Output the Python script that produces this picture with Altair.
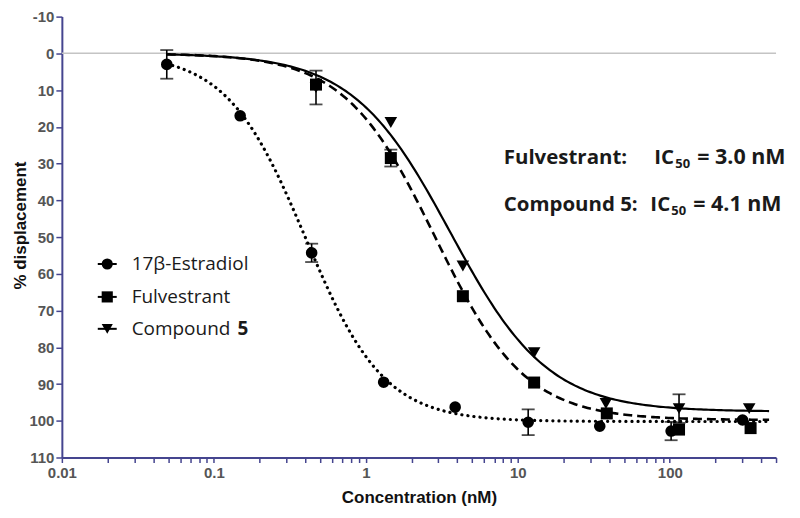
import numpy as np
import pandas as pd
import altair as alt

# ---------------- data ----------------
e_conc = [0.049, 0.149, 0.44, 1.31, 3.87, 11.7, 34.6, 102, 301]
e_resp = [3.0, 17.0, 54.3, 89.5, 96.3, 100.4, 101.5, 102.8, 99.8]
e_err = [3.9, 0, 2.5, 0, 0, 3.5, 0, 2.5, 0]

f_conc = [0.47, 1.46, 4.35, 12.8, 38.5, 115, 340]
f_resp = [8.5, 28.5, 66.1, 89.6, 98.0, 102.4, 102.0]
f_err = [0, 2.3, 0, 0, 0, 0, 0]

c_conc = [0.47, 1.46, 4.35, 12.8, 38, 115, 333]
c_resp = [9.3, 18.8, 57.9, 81.5, 95.3, 96.7, 96.7]
c_err = [4.6, 0, 0, 0, 0, 3.9, 0]

# fitted sigmoid parameters (top, bottom, IC50, Hill slope)
fit_top = [0.0, 0.0, 0.0]
fit_bottom = [100.2, 99.8, 97.5]
fit_ic50 = [0.40, 2.85, 3.6]
fit_hill = [1.68, 1.46, 1.35]
curve_range = [0.049, 450]

x_ticks = [0.01, 0.02, 0.03, 0.04, 0.05, 0.06, 0.07, 0.08, 0.09,
           0.1, 0.2, 0.3, 0.4, 0.5, 0.6, 0.7, 0.8, 0.9,
           1, 2, 3, 4, 5, 6, 7, 8, 9,
           10, 20, 30, 40, 50, 60, 70, 80, 90,
           100, 200, 300, 400, 500]
x_labels = [0.01, 0.1, 1, 10, 100]
y_ticks = [-10, 0, 10, 20, 30, 40, 50, 60, 70, 80, 90, 100, 110]
zero_line = [0]

AX = "#45458f"
W, H = 716, 442


def X(field="conc"):
    return alt.X(
        f"{field}:Q",
        scale=alt.Scale(type="log", domain=[0.01, 500], nice=False),
        axis=alt.Axis(
            title="Concentration (nM)",
            values=x_ticks,
            labelExpr="indexof([" + ",".join(str(v) for v in x_labels) + "], datum.value) >= 0 ? format(datum.value, '~g') : ''",
            labelOverlap=False,
            labelFlush=False,
            tickSize=5,
            labelPadding=3,
            titlePadding=9,
        ),
    )


def Y(field="resp"):
    return alt.Y(
        f"{field}:Q",
        scale=alt.Scale(domain=[-10, 110], reverse=True, nice=False, zero=False),
        axis=alt.Axis(
            title="% displacement",
            values=y_ticks,
            labelExpr="datum.value < 0 ? '-' + format(-datum.value, 'd') : format(datum.value, 'd')",
            tickSize=6,
            labelPadding=2,
            titleX=-41,
            titleY=209,
            titleBaseline="middle",
        ),
    )


def curve_df(i):
    xs = np.logspace(np.log10(curve_range[0]), np.log10(curve_range[1]), 240)
    ys = fit_top[i] + (fit_bottom[i] - fit_top[i]) / (1 + (fit_ic50[i] / xs) ** fit_hill[i])
    return pd.DataFrame({"conc": xs, "resp": ys})


def pts_df(conc, resp, err):
    df = pd.DataFrame({"conc": conc, "resp": resp, "err": err})
    df["lo"] = df["resp"] - df["err"]
    df["hi"] = df["resp"] + df["err"]
    return df


layers = []

# zero reference line
layers.append(
    alt.Chart(pd.DataFrame({"v": zero_line}))
    .mark_rule(color="#c4c4c4", strokeWidth=1.5)
    .encode(y=Y("v"))
)

# curves
dashes = [[0.1, 6], [9, 5], None]
widths = [3.2, 2.6, 2.2]
for i in range(3):
    kw = dict(color="black", strokeWidth=widths[i], strokeCap="round" if i == 0 else "butt")
    if dashes[i] is not None:
        kw["strokeDash"] = dashes[i]
    layers.append(alt.Chart(curve_df(i)).mark_line(**kw).encode(x=X(), y=Y()))

# points + error bars
series = [
    (e_conc, e_resp, e_err, "circle", 135),
    (f_conc, f_resp, f_err, "square", 145),
    (c_conc, c_resp, c_err, "triangle-down", 160),
]
for conc, resp, err, shape, size in series:
    df = pts_df(conc, resp, err)
    dfe = df[df["err"] > 0]
    if len(dfe):
        base = alt.Chart(dfe)
        layers.append(
            base.mark_rule(color="black", strokeWidth=1.6).encode(
                x=X(), y=Y("lo"), y2="hi:Q"
            )
        )
        layers.append(
            base.mark_tick(color="black", orient="horizontal", size=13, thickness=1.8).encode(
                x=X(), y=Y("lo")
            )
        )
        layers.append(
            base.mark_tick(color="black", orient="horizontal", size=13, thickness=1.8).encode(
                x=X(), y=Y("hi")
            )
        )
    layers.append(
        alt.Chart(df)
        .mark_point(shape=shape, size=size, filled=True, color="black", opacity=1)
        .encode(x=X(), y=Y())
    )

# ---------------- legend (drawn manually) ----------------
one = alt.Data(values=[{"k": 1}])
leg_names = ["17β-Estradiol", "Fulvestrant", "Compound"]
leg_shapes = ["circle", "square", "triangle-down"]
leg_y = [248, 281, 313]
for name, shape, yy in zip(leg_names, leg_shapes, leg_y):
    layers.append(
        alt.Chart(one).mark_rule(color="black", strokeWidth=2).encode(
            x=alt.value(36), x2=alt.value(55), y=alt.value(yy)
        )
    )
    layers.append(
        alt.Chart(one).mark_point(shape=shape, size=125, filled=True, color="black", opacity=1).encode(
            x=alt.value(45.5), y=alt.value(yy)
        )
    )
    layers.append(
        alt.Chart(one).mark_text(
            text=name, align="left", baseline="middle", font="Open Sans", fontSize=19, color="#1a1a1a"
        ).encode(x=alt.value(70), y=alt.value(yy))
    )
layers.append(
    alt.Chart(one).mark_text(
        text="5", align="left", baseline="middle", font="Open Sans", fontSize=19,
        fontWeight="bold", color="#1a1a1a"
    ).encode(x=alt.value(176), y=alt.value(leg_y[2]))
)

# ---------------- IC50 annotations ----------------
ann_lines = [("Fulvestrant:", "= 3.0 nM", 594, 142), ("Compound 5:", "= 4.1 nM", 590, 189)]
for label, val, ic_x, yy in ann_lines:
    common = dict(font="Open Sans", fontWeight="bold", color="#1a1a1a", baseline="middle")
    layers.append(
        alt.Chart(one).mark_text(text=label, align="left", fontSize=20.5, **common).encode(
            x=alt.value(443), y=alt.value(yy)
        )
    )
    layers.append(
        alt.Chart(one).mark_text(text="IC", align="left", fontSize=20.5, **common).encode(
            x=alt.value(ic_x), y=alt.value(yy)
        )
    )
    layers.append(
        alt.Chart(one).mark_text(text="50", align="left", fontSize=13, **common).encode(
            x=alt.value(ic_x + 21), y=alt.value(yy + 6)
        )
    )
    layers.append(
        alt.Chart(one).mark_text(text=val, align="left", fontSize=21.5, **common).encode(
            x=alt.value(ic_x + 43), y=alt.value(yy)
        )
    )

chart = (
    alt.layer(*layers)
    .properties(
        width=W,
        height=H,
        padding={"left": 54, "top": 8, "right": 16, "bottom": 54},
        autosize=alt.AutoSizeParams(type="none"),
        background="white",
    )
    .configure_view(stroke=None)
    .configure_axis(
        grid=False,
        domainColor=AX,
        domainWidth=2,
        tickColor=AX,
        tickWidth=1.5,
        labelColor="#555555",
        labelFont="Liberation Sans",
        labelFontWeight="bold",
        labelFontSize=15,
        titleFont="Liberation Sans",
        titleFontSize=17,
        titleFontWeight="bold",
        titleColor="#111111",
    )
)

chart.save("out.html", embed_options={"renderer": "svg", "actions": False})
